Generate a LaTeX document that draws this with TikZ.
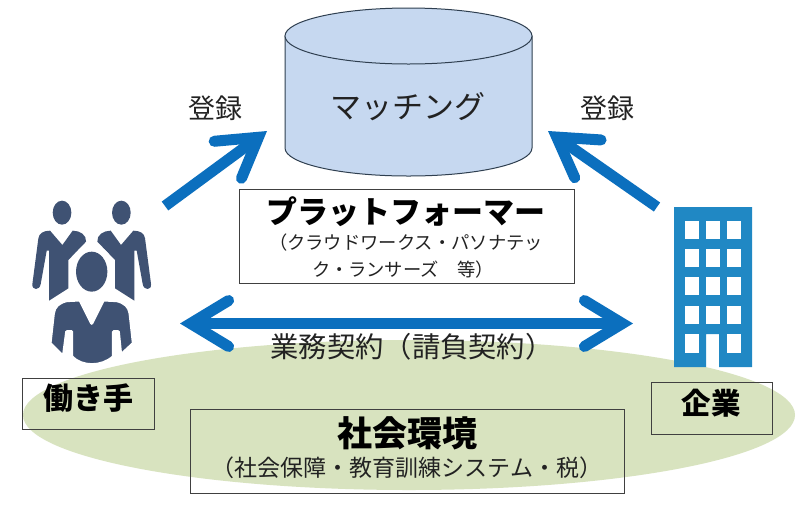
\documentclass[tikz,border=0pt]{standalone}
\usepackage{fontspec}
\setmainfont{Noto Sans CJK JP}
\usetikzlibrary{arrows.meta}
\definecolor{arrowblue}{HTML}{0B6FBE}
\definecolor{bldblue}{HTML}{2088C4}
\definecolor{cylfill}{HTML}{C6D8F0}
\definecolor{cyledge}{HTML}{2F3F50}
\definecolor{groundgreen}{HTML}{D8E3BF}
\definecolor{person}{HTML}{3F5273}
\definecolor{inktext}{HTML}{222222}
\tikzset{
  barb/.tip={Straight Barb[length=38pt,width=46pt,line width=11pt,line cap=round,line join=miter]},
  bigarrow/.style={draw=arrowblue,line width=11pt,-barb},
  dblarrow/.style={draw=arrowblue,line width=11pt,barb-barb},
  labelbox/.style={draw=black!75,line width=1pt,inner sep=0pt,anchor=north west},
  plain/.style={text=inktext,inner sep=0pt},
}
\begin{document}
\begin{tikzpicture}[x=1pt,y=-1pt]
\useasboundingbox (0,0) rectangle (799,504);
\fill[white] (0,0) rectangle (799,504);
% ground
\fill[groundgreen] (409,415) ellipse [x radius=386,y radius=75];
% cylinder
\draw[fill=cylfill,draw=cyledge,line width=1pt] (285,36) -- (285,148) .. controls (285,163.5) and (340,176) .. (408.5,176) .. controls (477,176) and (532,163.5) .. (532,148) -- (532,36) -- cycle;
\draw[fill=cylfill,draw=cyledge,line width=1pt] (408.5,36) ellipse [x radius=123.5,y radius=28];
\node[plain,font=\fontsize{31}{33}\selectfont] (match) at (408,107) {マッチング};
% arrows
\coordinate (a1s) at (165,206); \coordinate (a1e) at (267,131);
\coordinate (a2s) at (657,207); \coordinate (a2e) at (548,131);
\coordinate (a3s) at (180,323.5); \coordinate (a3e) at (633,323.5);
\draw[bigarrow] (a1s) -- (a1e);
\draw[bigarrow] (a2s) -- (a2e);
\draw[dblarrow] (a3s) -- (a3e);
\node[plain,font=\fontsize{27}{29}\selectfont] (reg1) at (215,108) {登録};
\node[plain,font=\fontsize{27}{29}\selectfont] (reg2) at (607,108) {登録};
% platform box
\node[labelbox,minimum width=335pt,minimum height=94pt] (pf) at (239,189) {};
\node[plain,font=\bfseries\fontsize{31}{33}\selectfont,text=black] (pft) at (406,212) {プラットフォーマー};
\node[plain,font=\fontsize{18.3}{20}\selectfont] (pf1) at (406,243) {（クラウドワークス・パソナテッ};
\node[plain,font=\fontsize{18.3}{20}\selectfont] (pf2) at (403,270) {ク・ランサーズ　等）};
\node[plain,font=\fontsize{28.3}{30}\selectfont] (gyomu) at (412,347) {業務契約（請負契約）};
% social box
\node[labelbox,minimum width=434pt,minimum height=84pt] (soc) at (190,409) {};
\node[plain,font=\bfseries\fontsize{35}{37}\selectfont,text=black] (soct) at (407,433) {社会環境};
\node[plain,font=\fontsize{23}{25}\selectfont] (soc2) at (407,468) {（社会保障・教育訓練システム・税）};
% worker / company
\node[labelbox,minimum width=132pt,minimum height=51pt] (w) at (22,378) {};
\node[plain,font=\bfseries\fontsize{30}{32}\selectfont,text=black] (wt) at (88,398) {働き手};
\node[labelbox,minimum width=121pt,minimum height=52pt] (c) at (651,382) {};
\node[plain,font=\bfseries\fontsize{29.5}{31}\selectfont,text=black] (ct) at (711,403) {企業};
% building
\fill[bldblue] (674,207) -- (752,207) -- (752,367) -- (719,367) -- (719,334) -- (706,334) -- (706,367) -- (674,367) -- cycle;
\foreach \cx in {685,706,727}{\foreach \cy in {221,249,277,306}{\fill[white] (\cx,\cy) rectangle ++(13.5,18);}}
\fill[white] (685,334) rectangle ++(13.5,19);
\fill[white] (727,334) rectangle ++(13.5,19);
% people, drawn in thirds of a pixel about the front figure's axis
\begin{scope}[shift={(91.7,180)},x=0.3333pt,y=-0.3333pt]
\foreach \s in {1,-1}{
  \begin{scope}[xscale=\s]
    \fill[person] (-89,98) ellipse [x radius=28,y radius=36];
    \fill[person] (-125,152) -- (-88,195) -- (-57,152) .. controls (-35,152) and (-15,165) .. (-17,185) -- (-70,240) -- (-70,325) -- (-128,362) -- (-128,212) -- (-135,212) -- (-153,312) .. controls (-156,332) and (-180,332) .. (-178,312) -- (-160,175) .. controls (-158,160) and (-145,152) .. (-125,152) -- cycle;
  \end{scope}
}
\fill[white] (0,275) ellipse [x radius=68,y radius=80];
\fill[person] (0,275) ellipse [x radius=47,y radius=60];
\draw[white,line width=3pt,fill=person,line join=round] (-35,360) -- (0,430) -- (35,360) -- (75,362) .. controls (100,368) and (112,380) .. (115,400) -- (125,490) -- (87,525) -- (80,455) -- (65,455) -- (65,530) .. controls (30,562) and (-30,562) .. (-60,530) -- (-60,455) -- (-75,455) -- (-85,530) -- (-125,490) -- (-115,400) .. controls (-112,380) and (-100,368) .. (-75,362) -- cycle;
\end{scope}
\end{tikzpicture}
\end{document}
